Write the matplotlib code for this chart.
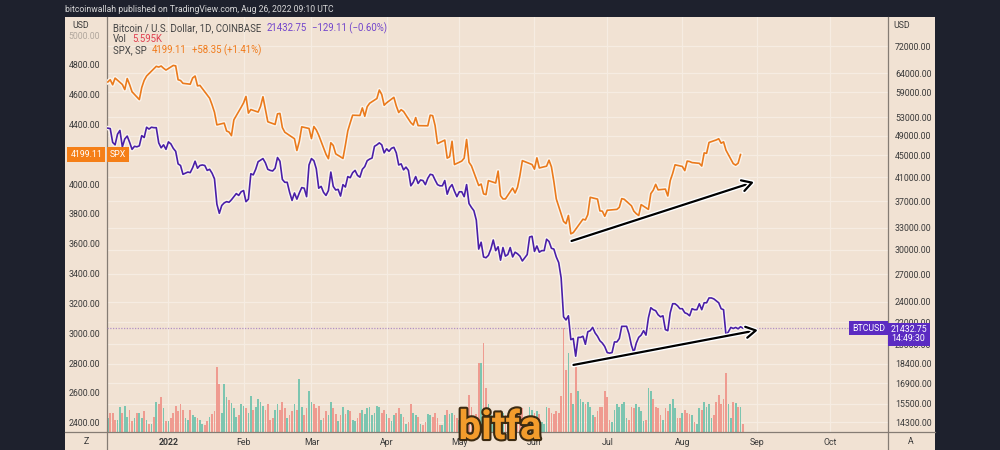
import numpy as np
import pandas as pd
import matplotlib
matplotlib.use('Agg')
import matplotlib.pyplot as plt
import matplotlib.dates as mdates
import matplotlib.patheffects as pe
from matplotlib.lines import Line2D
from matplotlib.patches import Rectangle
from matplotlib.transforms import blended_transform_factory

plt.rcParams['font.family'] = ['Roboto', 'DejaVu Sans']

# --- DATA ---
# BTC/USD daily closes (Coinbase), 2021-12-07 .. 2022-08-26
btc_close = [
    # Dec 2021 (from the 7th)
    50600, 50500, 47600, 47100, 49300, 50100, 46700, 48300, 48900, 47600, 46200, 46800, 46700,
    46900, 49000, 48600, 50800, 50400, 50800, 50700, 50700, 47500, 46500, 47100, 46200,
    # Jan
    47700, 47300, 46400, 45800, 43400, 43100, 41500, 41700, 41900, 41800, 42700, 43900, 42600,
    43100, 43200, 43100, 42200, 42400, 41700, 40700, 36500, 35100, 36300, 36700, 36900, 36800,
    37200, 37700, 38200, 37900, 38500,
    # Feb
    38700, 36900, 37300, 41600, 41400, 42400, 43800, 44100, 44400, 43600, 42400, 42200, 42100,
    42600, 44600, 43900, 40600, 40100, 40100, 38400, 37100, 38300, 37300, 38300, 39200, 39100,
    37700, 43200,
    # Mar
    44400, 44000, 42500, 39100, 39400, 38400, 37900, 38700, 41900, 39400, 38800, 38900, 37800,
    39700, 39300, 41100, 40900, 41800, 42200, 41300, 41000, 42400, 42900, 44000, 44300, 44500,
    46800, 47100, 47500, 47100, 45500,
    # Apr
    46300, 45800, 46400, 46600, 45500, 43200, 43400, 42300, 42800, 42200, 39500, 40100, 41100,
    39900, 40500, 40400, 39700, 40800, 41500, 41400, 40500, 39700, 39500, 39500, 40400, 38100,
    39200, 39700, 38600, 37700,
    # May
    38500, 38500, 37700, 39700, 36600, 36000, 35500, 34100, 30100, 31000, 29100, 29000, 29300,
    30100, 31300, 29900, 30400, 28700, 30300, 29200, 29400, 30300, 29100, 29700, 29500, 29200,
    28600, 29000, 29400, 31700, 31800,
    # Jun
    29800, 30500, 29700, 29900, 29900, 31400, 31100, 30200, 30100, 29100, 28400, 26600, 22500,
    22200, 22600, 20400, 20500, 19000, 20600, 20600, 20700, 20000, 21100, 21200, 21500, 21000,
    20700, 20300, 20100, 19800,
    # Jul
    19300, 19250, 19300, 20200, 20200, 20500, 21600, 21600, 21600, 20900, 19900, 19300, 20100,
    20600, 20800, 21200, 20800, 22400, 23400, 23200, 23100, 22700, 22500, 22600, 21300, 21200,
    22900, 23800, 23800, 23600, 23300,
    # Aug
    23300, 22900, 22800, 22600, 23300, 23200, 23200, 23800, 23200, 23900, 23900, 24400, 24400,
    24300, 24100, 23900, 23300, 23200, 20800, 21100, 21500, 21400, 21500, 21370, 21562, 21432.75,
]

# BTC daily volume, thousands of BTC
btc_volume = [
    # Dec 2021
    10, 14, 14, 9, 9, 18, 14, 19, 11, 16, 8, 10, 14, 14, 10, 15, 9, 6, 6, 11, 22, 20, 25, 17, 8,
    # Jan
    8, 10, 14, 19, 15, 20, 16, 10, 9, 16, 12, 11, 10, 9, 6, 5, 8, 11, 13, 15, 47, 35, 14, 35, 25,
    23, 21, 17, 11, 12, 20,
    # Feb
    19, 17, 14, 26, 16, 18, 24, 22, 19, 16, 20, 9, 10, 16, 20, 16, 22, 17, 10, 12, 15, 20, 16, 38,
    18, 12, 17, 30,
    # Mar
    22, 20, 17, 19, 9, 10, 15, 12, 22, 17, 13, 8, 12, 18, 13, 16, 15, 9, 8, 10, 14, 16, 13, 17, 18,
    12, 14, 19, 18, 14, 16,
    # Apr
    13, 10, 8, 12, 14, 17, 13, 11, 6, 7, 20, 14, 12, 11, 6, 5, 7, 13, 12, 11, 14, 10, 5, 5, 12, 16,
    13, 14, 12, 10,
    # May
    9, 14, 11, 16, 27, 18, 10, 13, 50, 50, 64, 32, 20, 12, 10, 14, 13, 16, 14, 12, 6, 7, 14, 12, 15,
    18, 17, 10, 7, 18, 16,
    # Jun
    14, 15, 13, 7, 6, 18, 17, 14, 13, 15, 14, 26, 75, 45, 57, 28, 20, 47, 30, 24, 22, 20, 22, 18, 12,
    11, 15, 18, 18, 30,
    # Jul
    25, 9, 7, 16, 20, 18, 20, 22, 10, 9, 18, 17, 20, 18, 15, 8, 9, 32, 30, 24, 18, 17, 12, 9, 17, 15,
    20, 24, 17, 10, 10,
    # Aug
    14, 16, 14, 13, 12, 7, 6, 17, 16, 22, 18, 20, 10, 12, 22, 27, 20, 24, 43, 20, 10, 22, 21, 18, 18, 6,
]

# S&P 500 daily closes, 2021-12-07 .. 2022-08-25 (trading days)
spx_close = [
    # Dec 2021
    4686, 4701, 4667, 4712, 4669, 4635, 4709, 4668, 4620, 4568, 4649, 4697, 4726, 4791, 4786, 4793,
    4778, 4766,
    # Jan
    4797, 4794, 4701, 4696, 4677, 4671, 4713, 4726, 4660, 4663, 4577, 4533, 4483, 4398, 4410, 4357,
    4350, 4326, 4432, 4516,
    # Feb
    4546, 4589, 4477, 4501, 4484, 4522, 4587, 4504, 4419, 4401, 4472, 4475, 4380, 4349, 4305, 4226,
    4288, 4385, 4374,
    # Mar
    4306, 4387, 4364, 4329, 4201, 4171, 4278, 4260, 4204, 4173, 4262, 4358, 4412, 4463, 4461, 4512,
    4456, 4520, 4543, 4575, 4632, 4602, 4530,
    # Apr
    4546, 4583, 4525, 4481, 4500, 4488, 4413, 4397, 4447, 4393, 4392, 4463, 4460, 4394, 4272, 4296,
    4175, 4184, 4288, 4132,
    # May
    4155, 4175, 4300, 4147, 4123, 3991, 4001, 3935, 3930, 4024, 4008, 4088, 3923, 3901, 3901, 3974,
    3941, 3979, 4058, 4158, 4132,
    # Jun
    4101, 4177, 4109, 4121, 4161, 4116, 4018, 3901, 3750, 3735, 3790, 3667, 3675, 3765, 3760, 3796,
    3912, 3900, 3821, 3819, 3785,
    # Jul
    3825, 3831, 3845, 3903, 3899, 3855, 3819, 3802, 3790, 3863, 3831, 3937, 3960, 3999, 3962, 3967,
    3921, 4024, 4072, 4130,
    # Aug
    4119, 4091, 4155, 4152, 4145, 4140, 4122, 4210, 4207, 4280, 4297, 4305, 4275, 4284, 4228, 4138,
    4128, 4141, 4199.11,
]
us_holidays = ['2021-12-24', '2022-01-17', '2022-02-21', '2022-04-15', '2022-05-30',
               '2022-06-20', '2022-07-04']

btc_ticks = [14300, 15500, 16900, 18400, 20000, 22000, 24000, 27000, 30000, 33000, 37000,
             41000, 45000, 49000, 53000, 59000, 64000, 72000]
spx_ticks = list(range(2400, 5001, 200))
month_ticks = ['2022-01-01', '2022-02-01', '2022-03-01', '2022-04-01', '2022-05-01',
               '2022-06-01', '2022-07-01', '2022-08-01', '2022-09-01', '2022-10-01']
month_labels = ['2022', 'Feb', 'Mar', 'Apr', 'May', 'Jun', 'Jul', 'Aug', 'Sep', 'Oct']

# trend arrows: (start date, start value, end date, end value)
spx_arrow = ('2022-06-16 07:00', 3619, '2022-08-30 14:00', 4015)
btc_arrow = ('2022-06-17 02:00', 18300, '2022-09-01 05:00', 21260)

btc_dates = pd.date_range('2021-12-07', periods=len(btc_close), freq='D')
spx_dates = pd.bdate_range('2021-12-07', '2022-08-25', freq='C', holidays=us_holidays)
btc_close = np.array(btc_close, dtype=float)
btc_volume = np.array(btc_volume, dtype=float)
spx_close = np.array(spx_close, dtype=float)

# --- STYLE ---
BG = '#1e212d'
PANE = '#f1e2d3'
GRID = '#f6ece2'
SEP = '#857c74'
TXT = '#3a3a3a'
PURPLE = '#4a1fa8'
ORANGE = '#ea7a1c'
UP = '#7cc5b0'
DOWN = '#ef9b90'
halo = [pe.withStroke(linewidth=3.2, foreground='#fbf4ec')]

fig = plt.figure(figsize=(10, 4.5), dpi=100, facecolor=BG)
W, H = 1000.0, 450.0

fig.patches.append(Rectangle((65 / W, 0), 870 / W, 1 - 17 / H, transform=fig.transFigure,
                             facecolor=PANE, edgecolor='none', zorder=-5))
fig.text(65 / W, 1 - 10 / H, 'bitcoinwallah published on TradingView.com, Aug 26, 2022 09:10 UTC',
         color='#d8d8d8', fontsize=6.2, va='center', ha='left')

rect = [107 / W, 18 / H, 781 / W, (432 - 17) / H]
ax_vol = fig.add_axes(rect)
ax_btc = ax_vol.twinx()
ax_spx = ax_vol.twinx()
ax_vol.set_zorder(1)
ax_btc.set_zorder(2)
ax_spx.set_zorder(3)
ax_vol.set_facecolor(PANE)
for a in (ax_btc, ax_spx):
    a.patch.set_visible(False)
for a in (ax_vol, ax_btc, ax_spx):
    for s in a.spines.values():
        s.set_visible(False)

xmin = mdates.date2num(pd.Timestamp('2021-12-06 16:00'))
xmax = mdates.date2num(pd.Timestamp('2022-10-24 20:00'))
ax_vol.set_xlim(xmin, xmax)

# volume
prev = np.concatenate([[btc_close[0]], btc_close[:-1]])
vol_colors = [UP if c >= p else DOWN for c, p in zip(btc_close, prev)]
ax_vol.bar(btc_dates, btc_volume, width=0.72, color=vol_colors, edgecolor='none', zorder=2)
ax_vol.set_ylim(0, 300)
ax_vol.set_yticks([])

# BTC (log, right axis)
ax_btc.set_yscale('log')
ax_btc.set_ylim(13720, 81560)
ax_btc.yaxis.set_major_locator(plt.FixedLocator(btc_ticks))
ax_btc.yaxis.set_minor_locator(plt.NullLocator())
ax_btc.set_yticks(btc_ticks)
ax_btc.set_yticklabels([f'{v:.2f}' for v in btc_ticks])
ax_btc.yaxis.tick_right()
ax_btc.tick_params(axis='y', length=0, pad=5, labelsize=6.3, labelcolor=TXT)
ax_btc.plot(btc_dates, btc_close, color=PURPLE, lw=1.2, path_effects=halo, zorder=3)
ax_btc.axhline(btc_close[-1], color='#a27cc0', lw=0.9, ls=(0, (1, 1.2)), alpha=0.8, zorder=1)

# grid behind bars
tr = blended_transform_factory(ax_vol.transAxes, ax_btc.transData)
for v in btc_ticks:
    ax_vol.plot([0, 1], [v, v], transform=tr, color=GRID, lw=0.9, zorder=0.5)
for d in month_ticks:
    ax_vol.axvline(mdates.date2num(pd.Timestamp(d)), color=GRID, lw=0.9, zorder=0.5)

# SPX (linear, left axis); the 4200 label sits under the last-price tag
ax_spx.set_ylim(2337, 5122)
ax_spx.set_yticks(spx_ticks)
ax_spx.set_yticklabels(['' if v == 4200 else f'{v:.2f}' for v in spx_ticks])
ax_spx.yaxis.tick_left()
ax_spx.tick_params(axis='y', length=0, pad=5, labelsize=6.3, labelcolor=TXT)
ax_spx.get_yticklabels()[-1].set_alpha(0.35)
ax_spx.plot(spx_dates, spx_close, color=ORANGE, lw=1.2, path_effects=halo, zorder=3)

# x axis
ax_vol.set_xticks([mdates.date2num(pd.Timestamp(d)) for d in month_ticks])
ax_vol.set_xticklabels(month_labels)
ax_vol.tick_params(axis='x', length=0, pad=4, labelsize=6.3, labelcolor=TXT)
ax_vol.get_xticklabels()[0].set_fontweight('bold')
for a in (ax_btc, ax_spx):
    a.set_xlim(xmin, xmax)

# trend arrows
arrow_style = dict(arrowstyle='->,head_length=0.7,head_width=0.4', color='black', lw=1.6,
                   shrinkA=0, shrinkB=0,
                   path_effects=[pe.withStroke(linewidth=3.6, foreground='white')])
ax_spx.annotate('', xy=(mdates.date2num(pd.Timestamp(spx_arrow[2])), spx_arrow[3]),
                xytext=(mdates.date2num(pd.Timestamp(spx_arrow[0])), spx_arrow[1]),
                arrowprops=arrow_style, zorder=5)
ax_btc.annotate('', xy=(mdates.date2num(pd.Timestamp(btc_arrow[2])), btc_arrow[3]),
                xytext=(mdates.date2num(pd.Timestamp(btc_arrow[0])), btc_arrow[1]),
                arrowprops=arrow_style, zorder=5)

# price labels
lab = dict(color='white', fontsize=6.3, va='center', annotation_clip=False)
ax_spx.annotate(f'{spx_close[-1]:.2f}', xy=(-0.006, spx_close[-1]), xycoords=('axes fraction', 'data'),
                ha='right', bbox=dict(boxstyle='square,pad=0.35', fc='#f57f17', ec='none'), **lab)
ax_spx.annotate('SPX', xy=(0.004, spx_close[-1]), xycoords=('axes fraction', 'data'),
                ha='left', bbox=dict(boxstyle='square,pad=0.35', fc='#f57f17', ec='none'), **lab)
ax_btc.annotate('BTCUSD', xy=(0.996, btc_close[-1]), xycoords=('axes fraction', 'data'),
                ha='right', bbox=dict(boxstyle='square,pad=0.3', fc='#5b2bc2', ec='none'), **lab)
ax_btc.annotate(f'{btc_close[-1]:.2f}\n14:49:30', xy=(1.004, btc_close[-1]),
                xycoords=('axes fraction', 'data'), xytext=(0, -4.5), textcoords='offset points',
                ha='left', linespacing=1.0,
                bbox=dict(boxstyle='square,pad=0.3', fc='#5b2bc2', ec='none'), **lab)

# frame separators
for xs, ys in [([107, 107], [17, 450]), ([888, 888], [17, 450]), ([65, 935], [432, 432])]:
    fig.add_artist(Line2D([x / W for x in xs], [1 - y / H for y in ys], color=SEP, lw=0.9))
fig.text(72 / W, 1 - 26 / H, 'USD', color=TXT, fontsize=6.3, va='center')
fig.text(893 / W, 1 - 26 / H, 'USD', color=TXT, fontsize=6.3, va='center')
fig.text(86 / W, 1 - 441 / H, 'Z', color=TXT, fontsize=6.3, va='center', ha='center')
fig.text(911 / W, 1 - 441 / H, 'A', color=TXT, fontsize=6.3, va='center', ha='center')

# legend rows
renderer = fig.canvas.get_renderer()


def text_row(x_px, y_px, segments):
    x = x_px / W
    for s, c in segments:
        t = fig.text(x, 1 - y_px / H, s, color=c, fontsize=6.9, va='center', ha='left', zorder=6)
        bb = t.get_window_extent(renderer)
        x = (bb.x1 + 5) / W


text_row(113, 28, [('Bitcoin / U.S. Dollar, 1D, COINBASE', '#444444'), ('21432.75', '#7245cc'),
                   ('\u2212129.11 (\u22120.60%)', '#7245cc')])
text_row(113, 39, [('Vol', '#444444'), ('5.595K', '#e04050')])
text_row(113, 50, [('SPX, SP', '#444444'), ('4199.11', '#f07a1a'), ('+58.35 (+1.41%)', '#f07a1a')])

# watermark
fig.text(500 / W, 1 - 428 / H, 'bitfa', color='#f39c2c', fontsize=29, fontweight='bold',
         ha='center', va='center', zorder=7,
         path_effects=[pe.withStroke(linewidth=3, foreground='#3b2a12')])

fig.savefig('out.png', dpi=100, facecolor=BG)
